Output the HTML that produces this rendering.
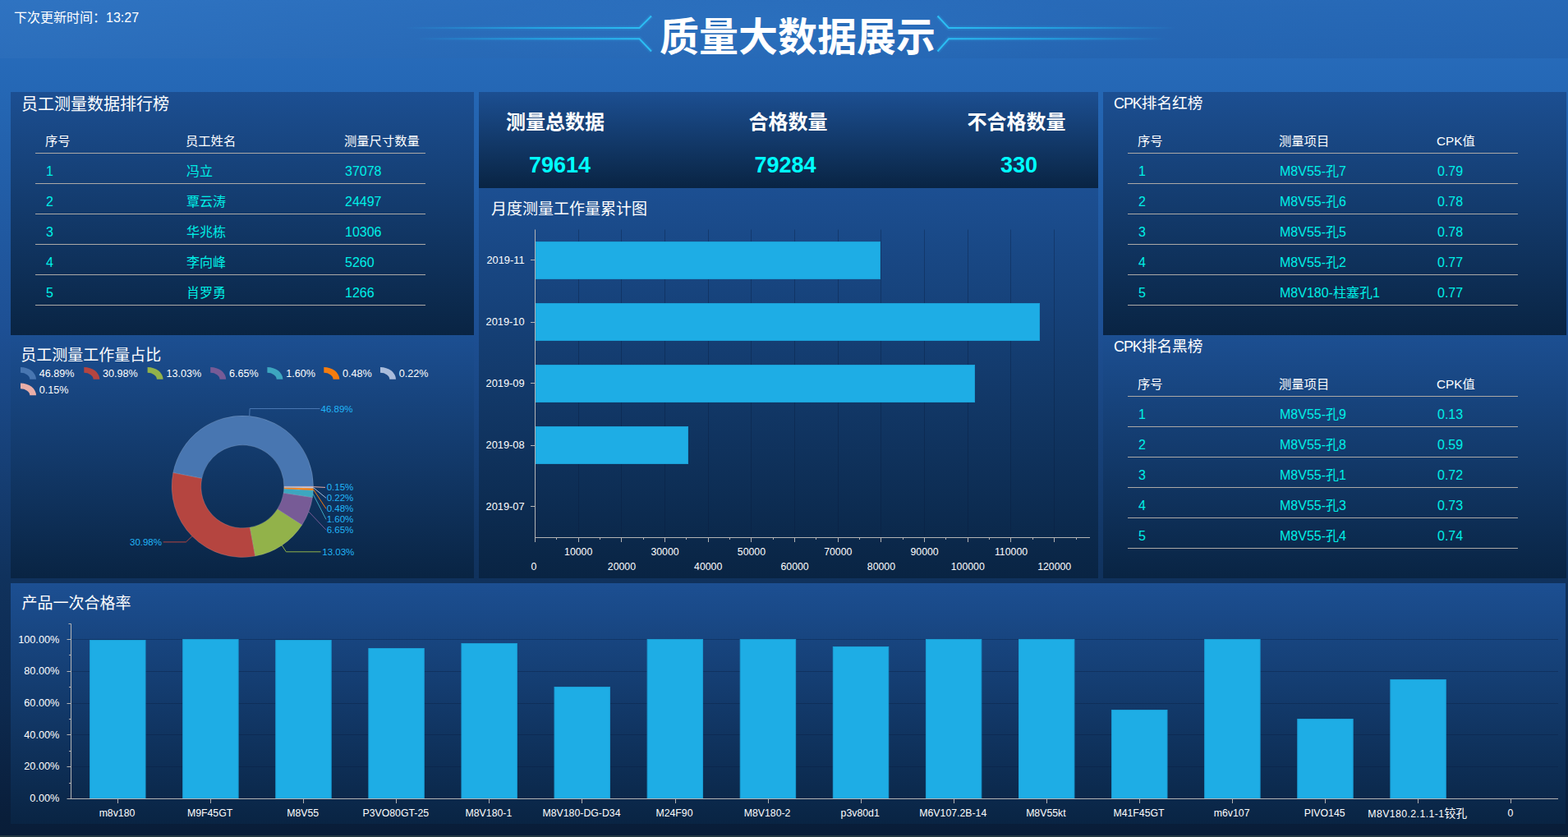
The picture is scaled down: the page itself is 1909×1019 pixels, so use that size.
<!DOCTYPE html>
<html lang="zh-CN"><head><meta charset="utf-8"><title>质量大数据展示</title>
<style>
*{box-sizing:border-box}
html,body{margin:0;padding:0}
body{width:1909px;height:1019px;overflow:hidden;position:relative;
 font-family:"Liberation Sans","Noto Sans CJK SC",sans-serif;color:#fff;
 background:linear-gradient(to bottom,#2a70c0 0px,#2568b6 100px,#1d4f93 405px,#10325d 700px,#0d2a50 850px,#091e3a 995px,#091d38 1019px);}
.abs{position:absolute}
.panel{position:absolute;background:linear-gradient(to bottom,#1c4f92 0%,#092443 100%)}
.t{position:absolute;white-space:nowrap;line-height:1}
.ptitle{font-size:20px}
.ctitle{font-size:19px}
.rtitle{font-size:18.67px}
.lt{font-size:18px;letter-spacing:-1.1px}
.th{font-size:15.3px;color:#fff}
.td{font-size:16px;color:#00f0e6}
.td .c{font-size:16px}
.hr{position:absolute;height:1px;background:#aca9a6}
svg.ch{position:absolute;left:0;top:0;overflow:visible}
svg.ch text{font-family:"Liberation Sans","Noto Sans CJK SC",sans-serif}
</style></head><body>
<div class="abs" style="left:560px;top:0;width:820px;height:71px;background:radial-gradient(ellipse 410px 60px at 50% 55%,rgba(70,160,240,0.13),rgba(70,160,240,0) 100%)"></div>
<div class="abs" style="left:0;top:0;width:1909px;height:71px;background:linear-gradient(to right,rgba(255,255,255,0.025) 0%,rgba(0,12,60,0.05) 55%,rgba(0,12,60,0.075) 100%)"></div>
<div class="t" style="left:17px;top:14px;font-size:16px">下次更新时间：13:27</div>
<div class="t" id="title" style="left:803px;top:22px;font-size:48px;font-weight:bold;letter-spacing:0">质量大数据展示</div>
<svg class="ch" width="1909" height="112" viewBox="0 0 1909 112">
<defs><linearGradient id="gl" x1="0" x2="1" y1="0" y2="0"><stop offset="0" stop-color="#22b4ee" stop-opacity="0"/><stop offset="0.55" stop-color="#22b4ee" stop-opacity="0.75"/><stop offset="1" stop-color="#2cc0f5" stop-opacity="1"/></linearGradient><linearGradient id="gr" x1="0" x2="1" y1="0" y2="0"><stop offset="0" stop-color="#2cc0f5" stop-opacity="1"/><stop offset="0.45" stop-color="#22b4ee" stop-opacity="0.75"/><stop offset="1" stop-color="#22b4ee" stop-opacity="0"/></linearGradient></defs>
<path d="M492 34 H778.5 L793 19.5" fill="none" stroke="url(#gl)" stroke-width="6" opacity="0.13"/>
<path d="M492 34 H778.5 L793 19.5" fill="none" stroke="url(#gl)" stroke-width="2"/>
<path d="M505 47.3 H778.5 L793 62.5" fill="none" stroke="url(#gl)" stroke-width="6" opacity="0.13"/>
<path d="M505 47.3 H778.5 L793 62.5" fill="none" stroke="url(#gl)" stroke-width="2"/>
<path d="M1432 34 H1155 L1141.5 19.5" fill="none" stroke="url(#gr)" stroke-width="6" opacity="0.13"/>
<path d="M1432 34 H1155 L1141.5 19.5" fill="none" stroke="url(#gr)" stroke-width="2"/>
<path d="M1420 47.3 H1155 L1141.5 62.5" fill="none" stroke="url(#gr)" stroke-width="6" opacity="0.13"/>
<path d="M1420 47.3 H1155 L1141.5 62.5" fill="none" stroke="url(#gr)" stroke-width="2"/>
</svg>
<div class="panel" style="left:13px;top:112px;width:564px;height:296px"></div>
<div class="panel" style="left:13px;top:408px;width:564px;height:296px"></div>
<div class="panel" style="left:583px;top:112px;width:754px;height:117px"></div>
<div class="panel" style="left:583px;top:229px;width:754px;height:475px"></div>
<div class="panel" style="left:1343px;top:112px;width:564px;height:296px"></div>
<div class="panel" style="left:1343px;top:408px;width:564px;height:296px"></div>
<div class="panel" style="left:13px;top:710px;width:1893px;height:293px"></div>
<div class="t ptitle" style="left:26px;top:117px">员工测量数据排行榜</div>
<div class="t th" style="left:55px;top:164px">序号</div>
<div class="t th" style="left:226px;top:164px">员工姓名</div>
<div class="t th" style="left:419px;top:164px">测量尺寸数量</div>
<div class="hr" style="left:43px;top:186px;width:475px"></div>
<div class="hr" style="left:43px;top:223px;width:475px"></div>
<div class="hr" style="left:43px;top:260px;width:475px"></div>
<div class="hr" style="left:43px;top:297px;width:475px"></div>
<div class="hr" style="left:43px;top:334px;width:475px"></div>
<div class="hr" style="left:43px;top:371px;width:475px"></div>
<div class="t td" style="left:56px;top:200.5px">1</div>
<div class="t td" style="left:227px;top:200.5px">冯立</div>
<div class="t td" style="left:420px;top:200.5px">37078</div>
<div class="t td" style="left:56px;top:237.5px">2</div>
<div class="t td" style="left:227px;top:237.5px">覃云涛</div>
<div class="t td" style="left:420px;top:237.5px">24497</div>
<div class="t td" style="left:56px;top:274.5px">3</div>
<div class="t td" style="left:227px;top:274.5px">华兆栋</div>
<div class="t td" style="left:420px;top:274.5px">10306</div>
<div class="t td" style="left:56px;top:311.5px">4</div>
<div class="t td" style="left:227px;top:311.5px">李向峰</div>
<div class="t td" style="left:420px;top:311.5px">5260</div>
<div class="t td" style="left:56px;top:348.5px">5</div>
<div class="t td" style="left:227px;top:348.5px">肖罗勇</div>
<div class="t td" style="left:420px;top:348.5px">1266</div>
<div class="t rtitle" style="left:1356px;top:116.5px"><span class="lt">CPK</span>排名红榜</div>
<div class="t th" style="left:1385px;top:164px">序号</div>
<div class="t th" style="left:1557px;top:164px">测量项目</div>
<div class="t th" style="left:1749px;top:164px">CPK值</div>
<div class="hr" style="left:1373px;top:186px;width:475px"></div>
<div class="hr" style="left:1373px;top:223px;width:475px"></div>
<div class="hr" style="left:1373px;top:260px;width:475px"></div>
<div class="hr" style="left:1373px;top:297px;width:475px"></div>
<div class="hr" style="left:1373px;top:334px;width:475px"></div>
<div class="hr" style="left:1373px;top:371px;width:475px"></div>
<div class="t td" style="left:1386px;top:200.5px">1</div>
<div class="t td" style="left:1558px;top:200.5px">M8V55-孔7</div>
<div class="t td" style="left:1750px;top:200.5px">0.79</div>
<div class="t td" style="left:1386px;top:237.5px">2</div>
<div class="t td" style="left:1558px;top:237.5px">M8V55-孔6</div>
<div class="t td" style="left:1750px;top:237.5px">0.78</div>
<div class="t td" style="left:1386px;top:274.5px">3</div>
<div class="t td" style="left:1558px;top:274.5px">M8V55-孔5</div>
<div class="t td" style="left:1750px;top:274.5px">0.78</div>
<div class="t td" style="left:1386px;top:311.5px">4</div>
<div class="t td" style="left:1558px;top:311.5px">M8V55-孔2</div>
<div class="t td" style="left:1750px;top:311.5px">0.77</div>
<div class="t td" style="left:1386px;top:348.5px">5</div>
<div class="t td" style="left:1558px;top:348.5px">M8V180-柱塞孔1</div>
<div class="t td" style="left:1750px;top:348.5px">0.77</div>
<div class="t rtitle" style="left:1356px;top:412.5px"><span class="lt">CPK</span>排名黑榜</div>
<div class="t th" style="left:1385px;top:460px">序号</div>
<div class="t th" style="left:1557px;top:460px">测量项目</div>
<div class="t th" style="left:1749px;top:460px">CPK值</div>
<div class="hr" style="left:1373px;top:482px;width:475px"></div>
<div class="hr" style="left:1373px;top:519px;width:475px"></div>
<div class="hr" style="left:1373px;top:556px;width:475px"></div>
<div class="hr" style="left:1373px;top:593px;width:475px"></div>
<div class="hr" style="left:1373px;top:630px;width:475px"></div>
<div class="hr" style="left:1373px;top:667px;width:475px"></div>
<div class="t td" style="left:1386px;top:496.5px">1</div>
<div class="t td" style="left:1558px;top:496.5px">M8V55-孔9</div>
<div class="t td" style="left:1750px;top:496.5px">0.13</div>
<div class="t td" style="left:1386px;top:533.5px">2</div>
<div class="t td" style="left:1558px;top:533.5px">M8V55-孔8</div>
<div class="t td" style="left:1750px;top:533.5px">0.59</div>
<div class="t td" style="left:1386px;top:570.5px">3</div>
<div class="t td" style="left:1558px;top:570.5px">M8V55-孔1</div>
<div class="t td" style="left:1750px;top:570.5px">0.72</div>
<div class="t td" style="left:1386px;top:607.5px">4</div>
<div class="t td" style="left:1558px;top:607.5px">M8V55-孔3</div>
<div class="t td" style="left:1750px;top:607.5px">0.73</div>
<div class="t td" style="left:1386px;top:644.5px">5</div>
<div class="t td" style="left:1558px;top:644.5px">M8V55-孔4</div>
<div class="t td" style="left:1750px;top:644.5px">0.74</div>
<div class="t" style="left:616px;top:137px;font-size:24px;font-weight:bold">测量总数据</div><div class="t" style="left:644px;top:187.5px;font-size:27px;font-weight:bold;color:#00ffff">79614</div>
<div class="t" style="left:911.5px;top:137px;font-size:24px;font-weight:bold">合格数量</div><div class="t" style="left:918.5px;top:187.5px;font-size:27px;font-weight:bold;color:#00ffff">79284</div>
<div class="t" style="left:1177.5px;top:137px;font-size:24px;font-weight:bold">不合格数量</div><div class="t" style="left:1218px;top:187.5px;font-size:27px;font-weight:bold;color:#00ffff">330</div>
<div class="t ctitle" style="left:598px;top:245px">月度测量工作量累计图</div>
<div class="t ctitle" style="left:25.3px;top:423.3px">员工测量工作量占比</div>
<div class="t ctitle" style="left:26.5px;top:725px">产品一次合格率</div>
<svg class="ch" width="1909" height="1019" viewBox="0 0 1909 1019">
<path d="M704.5 279.5V654.5 M756.5 279.5V654.5 M809.5 279.5V654.5 M862.5 279.5V654.5 M914.5 279.5V654.5 M967.5 279.5V654.5 M1020.5 279.5V654.5 M1072.5 279.5V654.5 M1125.5 279.5V654.5 M1178.5 279.5V654.5 M1230.5 279.5V654.5 M1283.5 279.5V654.5" stroke="rgba(8,28,60,0.36)" stroke-width="1" fill="none"/>
<rect x="652.5" y="294.5" width="419" height="45" fill="#1eade5" stroke="#1b9fd6" stroke-width="1"/>
<rect x="652.5" y="369.5" width="613" height="45" fill="#1eade5" stroke="#1b9fd6" stroke-width="1"/>
<rect x="652.5" y="444.5" width="534" height="45" fill="#1eade5" stroke="#1b9fd6" stroke-width="1"/>
<rect x="652.5" y="519.5" width="185" height="45" fill="#1eade5" stroke="#1b9fd6" stroke-width="1"/>
<path d="M651.5 279.5V655.0M651.0 654.5H1327" stroke="#b4b4b4" stroke-width="1" fill="none"/>
<path d="M651.5 654.5v5.5 M677.5 654.5v2.5 M704.5 654.5v5.5 M730.5 654.5v2.5 M756.5 654.5v5.5 M783.5 654.5v2.5 M809.5 654.5v5.5 M835.5 654.5v2.5 M862.5 654.5v5.5 M888.5 654.5v2.5 M914.5 654.5v5.5 M941.5 654.5v2.5 M967.5 654.5v5.5 M993.5 654.5v2.5 M1020.5 654.5v5.5 M1046.5 654.5v2.5 M1072.5 654.5v5.5 M1099.5 654.5v2.5 M1125.5 654.5v5.5 M1151.5 654.5v2.5 M1178.5 654.5v5.5 M1204.5 654.5v2.5 M1230.5 654.5v5.5 M1257.5 654.5v2.5 M1283.5 654.5v5.5 M1310.5 654.5v2.5 M651.5 316.5h-5.5 M651.5 392.5h-5.5 M651.5 466.5h-5.5 M651.5 542.5h-5.5 M651.5 616.5h-5.5" stroke="#b4b4b4" stroke-width="1" fill="none"/>
<text x="638.5" y="320.6" font-size="12.8" fill="#fff" text-anchor="end">2019-11</text>
<text x="638.5" y="395.6" font-size="12.8" fill="#fff" text-anchor="end">2019-10</text>
<text x="638.5" y="470.6" font-size="12.8" fill="#fff" text-anchor="end">2019-09</text>
<text x="638.5" y="545.6" font-size="12.8" fill="#fff" text-anchor="end">2019-08</text>
<text x="638.5" y="620.6" font-size="12.8" fill="#fff" text-anchor="end">2019-07</text>
<text x="650.0" y="694" font-size="12.3" fill="#fff" text-anchor="middle">0</text>
<text x="704.2" y="676" font-size="12.3" fill="#fff" text-anchor="middle">10000</text>
<text x="756.9" y="694" font-size="12.3" fill="#fff" text-anchor="middle">20000</text>
<text x="809.5" y="676" font-size="12.3" fill="#fff" text-anchor="middle">30000</text>
<text x="862.2" y="694" font-size="12.3" fill="#fff" text-anchor="middle">40000</text>
<text x="914.9" y="676" font-size="12.3" fill="#fff" text-anchor="middle">50000</text>
<text x="967.6" y="694" font-size="12.3" fill="#fff" text-anchor="middle">60000</text>
<text x="1020.3" y="676" font-size="12.3" fill="#fff" text-anchor="middle">70000</text>
<text x="1072.9" y="694" font-size="12.3" fill="#fff" text-anchor="middle">80000</text>
<text x="1125.6" y="676" font-size="12.3" fill="#fff" text-anchor="middle">90000</text>
<text x="1178.3" y="694" font-size="12.3" fill="#fff" text-anchor="middle">100000</text>
<text x="1231.0" y="676" font-size="12.3" fill="#fff" text-anchor="middle">110000</text>
<text x="1283.7" y="694" font-size="12.3" fill="#fff" text-anchor="middle">120000</text>
<path d="M86.5 933.5H1897 M86.5 894.5H1897 M86.5 856.5H1897 M86.5 817.5H1897 M86.5 778.5H1897" stroke="rgba(8,28,60,0.36)" stroke-width="1" fill="none"/>
<rect x="109.60" y="779.5" width="67.4" height="192.5" fill="#1eade5" stroke="#1b9fd6" stroke-width="1"/>
<text x="142.5" y="994" font-size="12.3" fill="#fff" text-anchor="middle">m8v180</text>
<rect x="222.69" y="778.5" width="67.4" height="193.5" fill="#1eade5" stroke="#1b9fd6" stroke-width="1"/>
<text x="255.6" y="994" font-size="12.3" fill="#fff" text-anchor="middle">M9F45GT</text>
<rect x="335.78" y="779.5" width="67.4" height="192.5" fill="#1eade5" stroke="#1b9fd6" stroke-width="1"/>
<text x="368.7" y="994" font-size="12.3" fill="#fff" text-anchor="middle">M8V55</text>
<rect x="448.87" y="789.5" width="67.4" height="182.5" fill="#1eade5" stroke="#1b9fd6" stroke-width="1"/>
<text x="481.8" y="994" font-size="12.3" fill="#fff" text-anchor="middle">P3VO80GT-25</text>
<rect x="561.96" y="783.5" width="67.4" height="188.5" fill="#1eade5" stroke="#1b9fd6" stroke-width="1"/>
<text x="594.9" y="994" font-size="12.3" fill="#fff" text-anchor="middle">M8V180-1</text>
<rect x="675.05" y="836.5" width="67.4" height="135.5" fill="#1eade5" stroke="#1b9fd6" stroke-width="1"/>
<text x="708.0" y="994" font-size="12.3" fill="#fff" text-anchor="middle">M8V180-DG-D34</text>
<rect x="788.14" y="778.5" width="67.4" height="193.5" fill="#1eade5" stroke="#1b9fd6" stroke-width="1"/>
<text x="821.0" y="994" font-size="12.3" fill="#fff" text-anchor="middle">M24F90</text>
<rect x="901.23" y="778.5" width="67.4" height="193.5" fill="#1eade5" stroke="#1b9fd6" stroke-width="1"/>
<text x="934.1" y="994" font-size="12.3" fill="#fff" text-anchor="middle">M8V180-2</text>
<rect x="1014.32" y="787.5" width="67.4" height="184.5" fill="#1eade5" stroke="#1b9fd6" stroke-width="1"/>
<text x="1047.2" y="994" font-size="12.3" fill="#fff" text-anchor="middle">p3v80d1</text>
<rect x="1127.41" y="778.5" width="67.4" height="193.5" fill="#1eade5" stroke="#1b9fd6" stroke-width="1"/>
<text x="1160.3" y="994" font-size="12.3" fill="#fff" text-anchor="middle">M6V107.2B-14</text>
<rect x="1240.50" y="778.5" width="67.4" height="193.5" fill="#1eade5" stroke="#1b9fd6" stroke-width="1"/>
<text x="1273.4" y="994" font-size="12.3" fill="#fff" text-anchor="middle">M8V55kt</text>
<rect x="1353.59" y="864.5" width="67.4" height="107.5" fill="#1eade5" stroke="#1b9fd6" stroke-width="1"/>
<text x="1386.5" y="994" font-size="12.3" fill="#fff" text-anchor="middle">M41F45GT</text>
<rect x="1466.68" y="778.5" width="67.4" height="193.5" fill="#1eade5" stroke="#1b9fd6" stroke-width="1"/>
<text x="1499.6" y="994" font-size="12.3" fill="#fff" text-anchor="middle">m6v107</text>
<rect x="1579.77" y="875.5" width="67.4" height="96.5" fill="#1eade5" stroke="#1b9fd6" stroke-width="1"/>
<text x="1612.7" y="994" font-size="12.3" fill="#fff" text-anchor="middle">PIVO145</text>
<rect x="1692.86" y="827.5" width="67.4" height="144.5" fill="#1eade5" stroke="#1b9fd6" stroke-width="1"/>
<text x="1838.9" y="994" font-size="12.3" fill="#fff" text-anchor="middle">0</text>
<path d="M86.5 759.5V972.5M81.5 972.5H1897 M86.5 759.5h-3" stroke="#b4b4b4" stroke-width="1" fill="none"/>
<path d="M143.5 972.5v5.5 M256.5 972.5v5.5 M369.5 972.5v5.5 M482.5 972.5v5.5 M595.5 972.5v5.5 M708.5 972.5v5.5 M822.5 972.5v5.5 M935.5 972.5v5.5 M1048.5 972.5v5.5 M1161.5 972.5v5.5 M1274.5 972.5v5.5 M1387.5 972.5v5.5 M1500.5 972.5v5.5 M1613.5 972.5v5.5 M1726.5 972.5v5.5 M1839.5 972.5v5.5 M86.5 953.5h-2.5 M86.5 933.5h-5 M86.5 914.5h-2.5 M86.5 894.5h-5 M86.5 875.5h-2.5 M86.5 856.5h-5 M86.5 836.5h-2.5 M86.5 817.5h-5 M86.5 797.5h-2.5 M86.5 778.5h-5" stroke="#b4b4b4" stroke-width="1" fill="none"/>
<text x="72.3" y="975.6" font-size="12.7" fill="#fff" text-anchor="end">0.00%</text>
<text x="72.3" y="937.3" font-size="12.7" fill="#fff" text-anchor="end">20.00%</text>
<text x="72.3" y="899.0" font-size="12.7" fill="#fff" text-anchor="end">40.00%</text>
<text x="72.3" y="860.2" font-size="12.7" fill="#fff" text-anchor="end">60.00%</text>
<text x="72.3" y="821.4" font-size="12.7" fill="#fff" text-anchor="end">80.00%</text>
<text x="72.3" y="782.6" font-size="12.7" fill="#fff" text-anchor="end">100.00%</text>
<path d="M381.50 592.30A86.2 86.2 0 0 0 210.74 575.56L245.76 582.49A50.5 50.5 0 0 1 345.80 592.30Z" fill="#4876b1" stroke="rgba(255,255,255,0.25)" stroke-width="0.6"/>
<path d="M210.74 575.56A86.2 86.2 0 0 0 310.76 677.10L304.36 641.98A50.5 50.5 0 0 1 245.76 582.49Z" fill="#b54540" stroke="rgba(255,255,255,0.25)" stroke-width="0.6"/>
<path d="M310.76 677.10A86.2 86.2 0 0 0 367.79 638.94L337.77 619.63A50.5 50.5 0 0 1 304.36 641.98Z" fill="#92b24a" stroke="rgba(255,255,255,0.25)" stroke-width="0.6"/>
<path d="M367.79 638.94A86.2 86.2 0 0 0 380.48 605.52L345.20 600.04A50.5 50.5 0 0 1 337.77 619.63Z" fill="#775b96" stroke="rgba(255,255,255,0.25)" stroke-width="0.6"/>
<path d="M380.48 605.52A86.2 86.2 0 0 0 381.38 596.90L345.73 595.00A50.5 50.5 0 0 1 345.20 600.04Z" fill="#3da6bf" stroke="rgba(255,255,255,0.25)" stroke-width="0.6"/>
<path d="M381.38 596.90A86.2 86.2 0 0 0 381.48 594.30L345.79 593.47A50.5 50.5 0 0 1 345.73 595.00Z" fill="#f57c0e" stroke="rgba(255,255,255,0.25)" stroke-width="0.6"/>
<path d="M381.48 594.30A86.2 86.2 0 0 0 381.50 593.11L345.80 592.78A50.5 50.5 0 0 1 345.79 593.47Z" fill="#a9bcdb" stroke="rgba(255,255,255,0.25)" stroke-width="0.6"/>
<path d="M381.50 593.11A86.2 86.2 0 0 0 381.50 592.30L345.80 592.30A50.5 50.5 0 0 1 345.80 592.78Z" fill="#e9aea8" stroke="rgba(255,255,255,0.25)" stroke-width="0.6"/>
<path d="M303.7 506.5L304.1 497.5L389.5 497.5" fill="none" stroke="#4876b1" stroke-width="1"/>
<path d="M233.9 652.8L226.4 659.9L198.7 659.9" fill="none" stroke="#b54540" stroke-width="1"/>
<path d="M343.2 663.9L348.4 671.8L390.5 671.8" fill="none" stroke="#92b24a" stroke-width="1"/>
<path d="M375.9 622.9L397 645.2" fill="none" stroke="#775b96" stroke-width="1"/>
<path d="M381.0 601.2L397 632.3" fill="none" stroke="#3da6bf" stroke-width="1"/>
<path d="M381.4 595.6L397 619.3" fill="none" stroke="#f57c0e" stroke-width="1"/>
<path d="M381.5 593.7L397 606.3" fill="none" stroke="#a9bcdb" stroke-width="1"/>
<path d="M381.5 592.7L396 593.4" fill="none" stroke="#e9aea8" stroke-width="1"/>
<text x="390.5" y="502.2" font-size="11.5" fill="#21b6f8" text-anchor="start">46.89%</text>
<text x="197" y="664.0" font-size="11.5" fill="#21b6f8" text-anchor="end">30.98%</text>
<text x="392.3" y="675.9" font-size="11.5" fill="#21b6f8" text-anchor="start">13.03%</text>
<text x="397.7" y="649.3" font-size="11.5" fill="#21b6f8" text-anchor="start">6.65%</text>
<text x="397.7" y="636.4" font-size="11.5" fill="#21b6f8" text-anchor="start">1.60%</text>
<text x="397.7" y="623.4" font-size="11.5" fill="#21b6f8" text-anchor="start">0.48%</text>
<text x="397.7" y="610.4" font-size="11.5" fill="#21b6f8" text-anchor="start">0.22%</text>
<text x="397.7" y="596.7" font-size="11.5" fill="#21b6f8" text-anchor="start">0.15%</text>
<path d="M25 447a19 14.85 0 0 1 19 14.85h-7.7a11.3 8 0 0 0 -11.3 -8z" fill="#4876b1"/>
<text x="47.8" y="459" font-size="12.6" fill="#fff">46.89%</text>
<path d="M102.3 447a19 14.85 0 0 1 19 14.85h-7.7a11.3 8 0 0 0 -11.3 -8z" fill="#b54540"/>
<text x="125.1" y="459" font-size="12.6" fill="#fff">30.98%</text>
<path d="M179.6 447a19 14.85 0 0 1 19 14.85h-7.7a11.3 8 0 0 0 -11.3 -8z" fill="#92b24a"/>
<text x="202.4" y="459" font-size="12.6" fill="#fff">13.03%</text>
<path d="M256.2 447a19 14.85 0 0 1 19 14.85h-7.7a11.3 8 0 0 0 -11.3 -8z" fill="#775b96"/>
<text x="279.0" y="459" font-size="12.6" fill="#fff">6.65%</text>
<path d="M325.4 447a19 14.85 0 0 1 19 14.85h-7.7a11.3 8 0 0 0 -11.3 -8z" fill="#3da6bf"/>
<text x="348.2" y="459" font-size="12.6" fill="#fff">1.60%</text>
<path d="M394.3 447a19 14.85 0 0 1 19 14.85h-7.7a11.3 8 0 0 0 -11.3 -8z" fill="#f57c0e"/>
<text x="417.1" y="459" font-size="12.6" fill="#fff">0.48%</text>
<path d="M463 447a19 14.85 0 0 1 19 14.85h-7.7a11.3 8 0 0 0 -11.3 -8z" fill="#a9bcdb"/>
<text x="485.8" y="459" font-size="12.6" fill="#fff">0.22%</text>
<path d="M25 466.5a19 14.85 0 0 1 19 14.85h-7.7a11.3 8 0 0 0 -11.3 -8z" fill="#e9aea8"/>
<text x="47.8" y="478.5" font-size="12.6" fill="#fff">0.15%</text>
</svg>
<div class="t" style="left:1605.8px;width:240px;text-align:center;top:983.59px;font-size:12.3px;letter-spacing:.4px">M8V180.2.1.1-1<span style="font-size:13.9px;letter-spacing:0">铰孔</span></div>
<div class="abs" style="left:0;top:1017px;width:1909px;height:2px;background:#243842"></div>
</body></html>
